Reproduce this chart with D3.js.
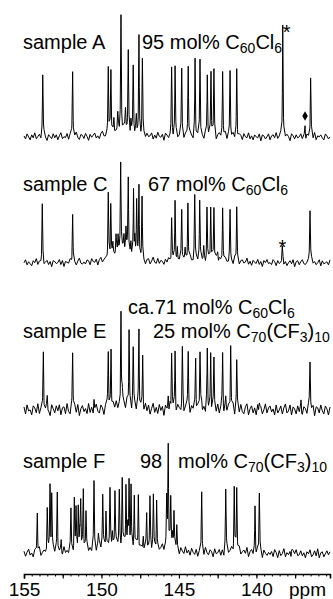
<!DOCTYPE html>
<html>
<head>
<meta charset="utf-8">
<script src="https://cdn.jsdelivr.net/npm/d3@7"></script>
<style>
  html, body { margin: 0; padding: 0; background: #fff; }
  svg { display: block; font-family: "Liberation Sans", Arial, Helvetica, sans-serif; }
  text { white-space: pre; }
</style>
</head>
<body>
<svg id="chart" width="333" height="599"></svg>
<script>
// 13C NMR spectra of four fullerene samples, chemical shift in ppm (decreasing to the right)
const shiftDomain = [155, 135.25];
const axisLabels = [155, 150, 145, 140];
const axisUnit = "ppm";

const sampleNames = ["sample A", "sample C", "sample E", "sample F"];

// Peak lists: [shift (ppm), intensity, half-width (ppm, optional)]
const peaksA = [
  [153.79, 61], [151.86, 67], [149.56, 67], [149.39, 66], [148.74, 113],
  [148.27, 77], [147.95, 65], [147.58, 100], [147.36, 72],
  [145.47, 67], [145.25, 69], [144.82, 69], [144.40, 72], [143.96, 76],
  [143.64, 74], [143.17, 60], [142.93, 66], [142.74, 65], [142.18, 67],
  [141.70, 65], [141.27, 68], [138.30, 115], [136.86, 15], [136.50, 60],
  [149.20, 12], [148.95, 14], [148.45, 20], [148.10, 10], [147.75, 15],
  [148.60, 8, 0.6]
];
const peaksC = [
  [153.82, 56], [151.86, 46], [149.56, 61], [149.40, 55], [148.76, 83],
  [148.27, 77], [147.93, 63], [147.73, 56], [147.58, 75], [147.38, 60],
  [145.47, 47], [145.25, 59], [144.82, 54], [144.42, 57], [143.98, 64],
  [143.66, 59], [143.19, 50], [142.95, 55], [142.74, 53], [142.18, 57],
  [141.70, 50], [141.27, 56], [138.33, 13], [136.54, 55],
  [149.26, 12], [149.06, 14], [148.93, 15], [148.55, 16], [148.42, 21],
  [148.10, 13], [147.85, 21], [145.10, 14], [144.60, 10], [143.40, 12], [142.50, 10],
  [148.70, 15, 0.55], [143.50, 3, 1.5]
];
const peaksE = [
  [153.75, 63], [151.86, 57], [149.56, 59], [149.38, 62], [148.74, 98],
  [148.22, 78], [147.95, 59], [147.58, 85], [147.34, 50],
  [145.47, 60], [145.25, 55], [144.78, 57], [144.40, 60], [143.92, 57],
  [143.64, 58], [143.17, 55], [142.95, 53], [142.74, 52], [142.18, 51],
  [141.66, 67], [141.27, 48], [137.12, 8], [136.54, 50],
  [153.50, 10], [150.48, 10], [148.66, 10], [145.69, 16], [143.53, 10],
  [141.98, 10], [139.81, 8],
  [148.60, 5, 0.6]
];
const peaksF = [
  [154.14, 42], [153.50, 48], [153.32, 65], [153.21, 59], [152.85, 64],
  [151.97, 43], [151.75, 50], [151.64, 38], [151.50, 46], [151.34, 49],
  [151.17, 65], [151.00, 38], [150.48, 69], [149.92, 52], [149.71, 37],
  [149.45, 53], [149.13, 57], [148.85, 52], [148.66, 65], [148.42, 62],
  [148.22, 62], [148.09, 57], [147.88, 50], [147.62, 54], [147.08, 39],
  [146.87, 48], [146.65, 55], [146.44, 53], [145.79, 46], [145.69, 104],
  [145.53, 44], [145.32, 31], [145.14, 25], [143.53, 62], [141.98, 62],
  [141.43, 61], [141.27, 61], [140.09, 47], [139.81, 61], [137.72, 8],
  [152.60, 10], [151.40, 16], [150.20, 12], [149.30, 14], [148.30, 17],
  [147.30, 14], [145.40, 14],
  [149.00, 9, 1.6], [145.60, 7, 0.4], [141.40, 3, 0.5]
];

// Baseline noise, evenly spaced across the shift range
const noiseA = [
   1,-2, 3, 0,-3, 2,-1, 4,-2, 0, 2,-3, 1, 3,-1,-4, 2, 0,-2, 3,
  -1, 2,-3, 1, 4,-2, 0,-1, 3,-3, 2, 1,-2, 0, 4,-1,-3, 2, 1,-2,
   3, 0,-4, 2,-1, 1, 3,-2, 0,-3, 2, 4,-1,-2, 1, 0, 3,-3, 2,-1,
   0, 4,-2, 1,-3, 2, 0,-1, 3,-4, 1, 2,-2, 3, 0,-1,-3, 4, 1,-2,
   2,-1, 0, 3,-3, 1,-2, 4, 0,-1, 2,-4, 3, 1,-2, 0, 2,-3, 1, 3,
  -2, 0, 4,-1,-3, 2, 1,-2, 3, 0,-4, 2,-1, 1, 3,-2, 0,-3, 4, 1,
  -1, 3,-2, 0, 2,-4, 1, 3,-1,-2, 0, 4,-3, 2, 1,-1, 3,-2, 0,-4,
   2, 1,-3, 3, 0,-1, 4,-2, 1,-3, 2, 0,-1, 3,-4, 2, 1,-2, 0, 3,
  -3, 1, 2,-1, 4,-2, 0, 3,-3, 1,-1, 2, 0,-4, 3, 1,-2, 2,-1, 0,
   3,-2, 1,-4, 2, 0,-1, 3,-2, 4,-3, 1, 0, 2,-1,-3, 3, 1,-2, 0
];
const noiseC = [
   0, 3,-2, 1,-1,-3, 2, 0, 4,-2, 1,-1, 3,-3, 0, 2,-2, 1,-4, 2,
   1,-1, 0, 3,-2, 2,-4, 1, 0,-1, 3,-2, 2, 0,-3, 1, 4,-1,-2, 0,
  -2, 2, 1,-3, 3, 0,-1, 2,-4, 1, 3,-2, 0, 1,-1, 4,-3, 2, 0,-2,
   3,-1,-2, 2, 0,-3, 1, 4,-2, 0,-1, 3,-3, 1, 2,-2, 0, 3,-1,-4,
   1, 2,-3, 0, 4,-1,-2, 3,-2, 1, 0,-3, 2,-1, 3, 0,-4, 2, 1,-1,
  -1, 0, 3,-3, 1, 2,-2, 0, 4,-1,-3, 1, 2,-2, 0, 3,-1, 1,-4, 2,
   2,-3, 0, 1,-1, 3,-2, 2, 0,-4, 1, 3,-1,-2, 2, 0,-3, 4,-1, 1,
  -3, 1, 2,-1, 0, 4,-2, 1,-3, 2, 0,-1, 3,-2, 1,-4, 2, 0, 3,-1,
   0,-2, 3, 1,-3, 2,-1, 0, 4,-2, 1,-3, 0, 2,-1, 3,-4, 1, 2,-2,
   1, 3,-1,-2, 0, 2,-3, 4,-1, 1,-2, 0, 3,-3, 2,-1, 0, 1,-2, 3
];
const noiseE = [
   3,-4, 5,-1, 0,-5, 4, 2,-3, 6,-4, 1, 2,-5, 0, 4,-2,-6, 5, 1,
  -3, 4,-1, 5,-5, 2, 3,-4, 6,-2,-5, 3, 0, 4,-3, 5,-6, 1, 4,-2,
   1,-4, 6,-3, 2,-5, 0, 5,-2,-4, 4, 1,-6, 3, 5,-3, 2,-4, 4,-1,
   5,-3, 0,-5, 4, 2,-4, 6,-2, 3,-5, 1, 4,-3, 5,-6, 2, 3,-4, 5,
  -2, 4,-5, 1, 6,-3, 2,-4, 5,-1, 3,-6, 4, 0,-3, 5,-4, 2, 3,-5,
   4, 1,-3, 6,-4, 2, 5,-2,-5, 3, 0, 4,-6, 3,-1, 5,-3, 2,-4, 6,
  -1, 3,-5, 4, 0,-3, 5,-4, 2, 6,-5, 3,-2, 4,-3, 1, 5,-6, 2, 4,
  -3, 5,-2,-4, 3, 6,-5, 1, 4,-3, 2,-5, 5,-1, 3,-4, 0, 6,-3, 2,
   4,-2, 1,-5, 5,-3, 0, 4,-4, 2, 6,-3,-1, 5,-5, 3, 1,-4, 4,-2,
   2,-5, 3, 1,-4, 5,-2, 0, 4,-6, 3, 2,-3, 5,-1,-4, 4, 1,-5, 3
];
const noiseF = [
   2,-3, 1, 4,-2, 0,-4, 3, 1,-2, 5,-3, 0, 2,-1,-4, 3, 1,-2, 4,
  -1, 3,-4, 0, 2,-3, 5,-1, 1,-2, 3, 0,-4, 2, 4,-3, 1,-1, 3,-5,
   0, 4,-2, 1,-3, 3,-1,-4, 2, 5,-2, 0, 3,-3, 1,-1, 4,-2, 0,-4,
   3,-1, 2,-5, 1, 4,-3, 0, 2,-2, 3,-4, 1, 5,-1,-3, 2, 0,-2, 4,
  -3, 1, 5,-2, 0, 3,-4, 2,-1, 1, 4,-3, 0, 2,-5, 3, 1,-2, 4,-1,
   1,-4, 3, 0,-2, 5,-1, 2,-3, 4, 0,-2, 3,-4, 1, 2,-1,-3, 5, 0,
  -2, 3, 1,-4, 4,-1, 0, 3,-3, 2,-5, 1, 4,-2, 0, 3,-4, 2, 1,-1,
   4,-3, 0, 2,-1, 5,-4, 1, 3,-2, 0,-3, 4,-1, 2,-5, 3, 0,-2, 1,
  -1, 2,-3, 4, 1,-4, 3,-2, 0, 5,-3, 1,-1, 2,-4, 3, 0, 4,-2,-1,
   3,-2, 1,-4, 2, 0, 4,-3,-1, 3,-2, 5,-4, 1, 2,-3, 0, 3,-1, 2
];

// Annotations
const compositionLines = [
  ["95 mol% C_{60}Cl_{6}"],
  ["67 mol% C_{60}Cl_{6}"],
  ["ca.71 mol% C_{60}Cl_{6}", "25 mol% C_{70}(CF_{3})_{10}"],
  ["98", "mol% C_{70}(CF_{3})_{10}"]
];

// ---------------------------------------------------------------- layout
const plotLeft = 24, plotRight = 330;
const baselines = [137, 263, 410, 554];
const axisY = 574;
const lineWidthPpm = 0.022;

const svg = d3.select("#chart");
const x = d3.scaleLinear().domain(shiftDomain).range([plotLeft, plotRight]);

function buildSpectrum(peaks, noise) {
  const n = noise.length;
  const step = (shiftDomain[0] - shiftDomain[1]) / (n - 1);
  const nearestNoise = ppm => noise[Math.max(0, Math.min(n - 1, Math.round((shiftDomain[0] - ppm) / step)))];
  const samples = noise.map((v, i) => ({ ppm: shiftDomain[0] - i * step, nz: v }));
  peaks.forEach(p => {
    if (p[2]) return; // broad features are smooth enough on the noise grid
    [-0.05, 0, 0.05].forEach(o => samples.push({ ppm: p[0] + o, nz: nearestNoise(p[0] + o) }));
  });
  samples.sort((a, b) => b.ppm - a.ppm);
  return samples.map(s => {
    let v = s.nz;
    peaks.forEach(p => {
      const w = p[2] || lineWidthPpm;
      const d = s.ppm - p[0];
      v += p[1] * w * w / (d * d + w * w);
    });
    return { ppm: s.ppm, v };
  });
}

const spectra = [
  buildSpectrum(peaksA, noiseA),
  buildSpectrum(peaksC, noiseC),
  buildSpectrum(peaksE, noiseE),
  buildSpectrum(peaksF, noiseF)
];

spectra.forEach((data, k) => {
  const y = d3.scaleLinear().domain([0, 100]).range([baselines[k], baselines[k] - 100]);
  const line = d3.line().x(d => x(d.ppm)).y(d => y(d.v));
  svg.append("path")
    .datum(data)
    .attr("fill", "none")
    .attr("stroke", "#000")
    .attr("stroke-width", 1)
    .attr("stroke-linejoin", "round")
    .attr("d", line);
});

// ---------------------------------------------------------------- text
function richText(str, px, py, size) {
  const t = svg.append("text").attr("x", px).attr("y", py)
    .attr("font-size", size).attr("fill", "#000");
  const parts = str.split(/(_\{[^}]*\})/).filter(s => s.length);
  let lowered = false;
  parts.forEach(s => {
    if (s.startsWith("_{")) {
      const ts = t.append("tspan").attr("font-size", size * 0.7).text(s.slice(2, -1));
      if (!lowered) ts.attr("dy", 4);
      lowered = true;
    } else {
      const ts = t.append("tspan").text(s);
      if (lowered) ts.attr("dy", -4);
      lowered = false;
    }
  });
  return t;
}

const nameY = [49, 191, 338, 468];
sampleNames.forEach((s, k) => richText(s, 23, nameY[k], 20));

richText(compositionLines[0][0], 142, 49, 20);
richText(compositionLines[1][0], 148, 191, 20);
richText(compositionLines[2][0], 128, 314, 20);
richText(compositionLines[2][1], 153, 338, 20);
richText(compositionLines[3][0], 140, 468, 20);
richText(compositionLines[3][1], 178, 468, 20);

// impurity markers
svg.append("text").attr("x", x(138.30) + 4).attr("y", 39).attr("font-size", 20)
  .attr("text-anchor", "middle").text("*");
svg.append("text").attr("x", x(138.33)).attr("y", 254).attr("font-size", 20)
  .attr("text-anchor", "middle").text("*");
svg.append("path")
  .attr("d", d3.symbol(d3.symbolDiamond, 26)())
  .attr("transform", `translate(${x(136.86)},116)`)
  .attr("fill", "#000");

// ---------------------------------------------------------------- axis
const axisG = svg.append("g").attr("transform", `translate(0,${axisY})`);

const minorTicks = d3.range(155, 135.24, -0.5);
axisG.append("g")
  .call(d3.axisBottom(x).tickValues(minorTicks).tickSize(2.5).tickSizeOuter(0).tickFormat(""))
  .call(g => g.select(".domain").remove())
  .call(g => g.selectAll("line").attr("stroke-width", 1));

const midTicks = d3.range(155, 135.24, -2.5);
axisG.append("g")
  .call(d3.axisBottom(x).tickValues(midTicks).tickSize(4.5).tickSizeOuter(4.5).tickFormat(""))
  .call(g => g.select(".domain").attr("stroke-width", 1.6))
  .call(g => g.selectAll("line").attr("stroke-width", 1.2));

axisG.append("g")
  .call(d3.axisBottom(x).tickValues(axisLabels).tickSize(0).tickPadding(4).tickFormat(d3.format("d")))
  .call(g => g.select(".domain").remove())
  .call(g => g.selectAll("text")
    .attr("font-family", "Liberation Sans, Arial, sans-serif")
    .attr("font-size", 19)
    .attr("fill", "#000")
    .attr("dy", "0")
    .attr("y", 22));

svg.append("text")
  .attr("x", 289).attr("y", axisY + 22)
  .attr("font-size", 19).attr("fill", "#000")
  .text(axisUnit);
</script>
</body>
</html>
